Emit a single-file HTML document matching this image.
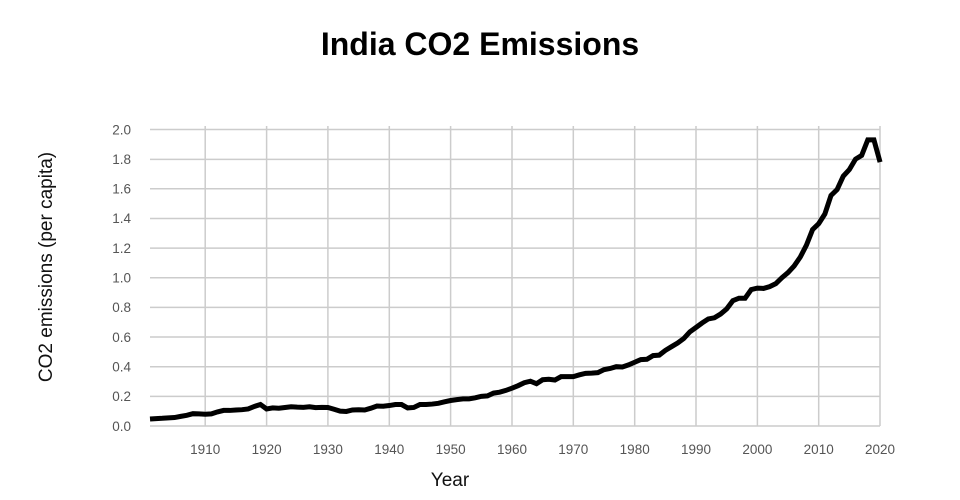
<!DOCTYPE html>
<html><head><meta charset="utf-8"><style>
html,body{margin:0;padding:0;background:#fff;}
svg{display:block;font-family:"Liberation Sans",Arial,sans-serif;}
</style></head><body>
<svg width="960" height="500" viewBox="0 0 960 500" xmlns="http://www.w3.org/2000/svg">
<rect width="960" height="500" fill="#fff"/>
<text x="480" y="55" text-anchor="middle" font-size="32" font-weight="bold" fill="#000">India CO2 Emissions</text>
<g stroke="#cccccc" stroke-width="1.5" fill="none">
<line x1="150" x2="880" y1="129.5" y2="129.5"/>
<line x1="150" x2="880" y1="159.35" y2="159.35"/>
<line x1="150" x2="880" y1="188.8" y2="188.8"/>
<line x1="150" x2="880" y1="218.45" y2="218.45"/>
<line x1="150" x2="880" y1="248.1" y2="248.1"/>
<line x1="150" x2="880" y1="277.75" y2="277.75"/>
<line x1="150" x2="880" y1="307.4" y2="307.4"/>
<line x1="150" x2="880" y1="337.05" y2="337.05"/>
<line x1="150" x2="880" y1="366.7" y2="366.7"/>
<line x1="150" x2="880" y1="396.35" y2="396.35"/>
<line x1="150" x2="880" y1="426" y2="426"/>
<line x1="205.2" x2="205.2" y1="126" y2="426"/>
<line x1="266.6" x2="266.6" y1="126" y2="426"/>
<line x1="327.9" x2="327.9" y1="126" y2="426"/>
<line x1="389.3" x2="389.3" y1="126" y2="426"/>
<line x1="450.6" x2="450.6" y1="126" y2="426"/>
<line x1="512" x2="512" y1="126" y2="426"/>
<line x1="573.3" x2="573.3" y1="126" y2="426"/>
<line x1="634.7" x2="634.7" y1="126" y2="426"/>
<line x1="696" x2="696" y1="126" y2="426"/>
<line x1="757.4" x2="757.4" y1="126" y2="426"/>
<line x1="818.7" x2="818.7" y1="126" y2="426"/>
<line x1="880" x2="880" y1="126" y2="426"/>
</g>
<g font-size="13.5" fill="#555" text-anchor="end">
<text x="131" y="134.3">2.0</text>
<text x="131" y="164">1.8</text>
<text x="131" y="193.6">1.6</text>
<text x="131" y="223.2">1.4</text>
<text x="131" y="252.9">1.2</text>
<text x="131" y="282.5">1.0</text>
<text x="131" y="312.2">0.8</text>
<text x="131" y="341.8">0.6</text>
<text x="131" y="371.5">0.4</text>
<text x="131" y="401.1">0.2</text>
<text x="131" y="430.8">0.0</text>
</g>
<g font-size="13.5" fill="#555" text-anchor="middle">
<text x="205.2" y="454">1910</text>
<text x="266.6" y="454">1920</text>
<text x="327.9" y="454">1930</text>
<text x="389.3" y="454">1940</text>
<text x="450.6" y="454">1950</text>
<text x="512" y="454">1960</text>
<text x="573.3" y="454">1970</text>
<text x="634.7" y="454">1980</text>
<text x="696" y="454">1990</text>
<text x="757.4" y="454">2000</text>
<text x="818.7" y="454">2010</text>
<text x="880" y="454">2020</text>
</g>
<text x="450" y="486" text-anchor="middle" font-size="19" fill="#111">Year</text>
<text transform="translate(52,267) rotate(-90)" text-anchor="middle" font-size="19" fill="#111">CO2 emissions (per capita)</text>
<g transform="translate(150,426) scale(6.135,-148.25)">
<polyline fill="none" stroke="#000" stroke-width="5" stroke-linejoin="miter" stroke-miterlimit="4" vector-effect="non-scaling-stroke" points="0,0.047 1,0.05 2,0.052 3,0.055 4,0.057 5,0.065 6,0.072 7,0.083 8,0.082 9,0.079 10,0.082 11,0.095 12,0.105 13,0.105 14,0.108 15,0.11 16,0.115 17,0.132 18,0.145 19,0.115 20,0.122 21,0.12 22,0.125 23,0.13 24,0.127 25,0.126 26,0.13 27,0.124 28,0.126 29,0.125 30,0.113 31,0.1 32,0.098 33,0.108 34,0.11 35,0.108 36,0.12 37,0.135 38,0.133 39,0.138 40,0.145 41,0.145 42,0.122 43,0.125 44,0.145 45,0.145 46,0.148 47,0.153 48,0.163 49,0.172 50,0.178 51,0.183 52,0.183 53,0.19 54,0.2 55,0.203 56,0.222 57,0.228 58,0.24 59,0.255 60,0.272 61,0.292 62,0.302 63,0.285 64,0.312 65,0.315 66,0.31 67,0.333 68,0.333 69,0.333 70,0.345 71,0.355 72,0.357 73,0.36 74,0.38 75,0.388 76,0.4 77,0.398 78,0.412 79,0.43 80,0.448 81,0.45 82,0.475 83,0.478 84,0.51 85,0.535 86,0.56 87,0.59 88,0.635 89,0.665 90,0.695 91,0.722 92,0.73 93,0.755 94,0.79 95,0.845 96,0.862 97,0.862 98,0.92 99,0.93 100,0.928 101,0.94 102,0.96 103,1.0 104,1.035 105,1.08 106,1.14 107,1.22 108,1.325 109,1.365 110,1.43 111,1.555 112,1.595 113,1.685 114,1.73 115,1.8 116,1.825 117,1.93 118,1.93 119,1.78"/>
</g>
</svg>
</body></html>
